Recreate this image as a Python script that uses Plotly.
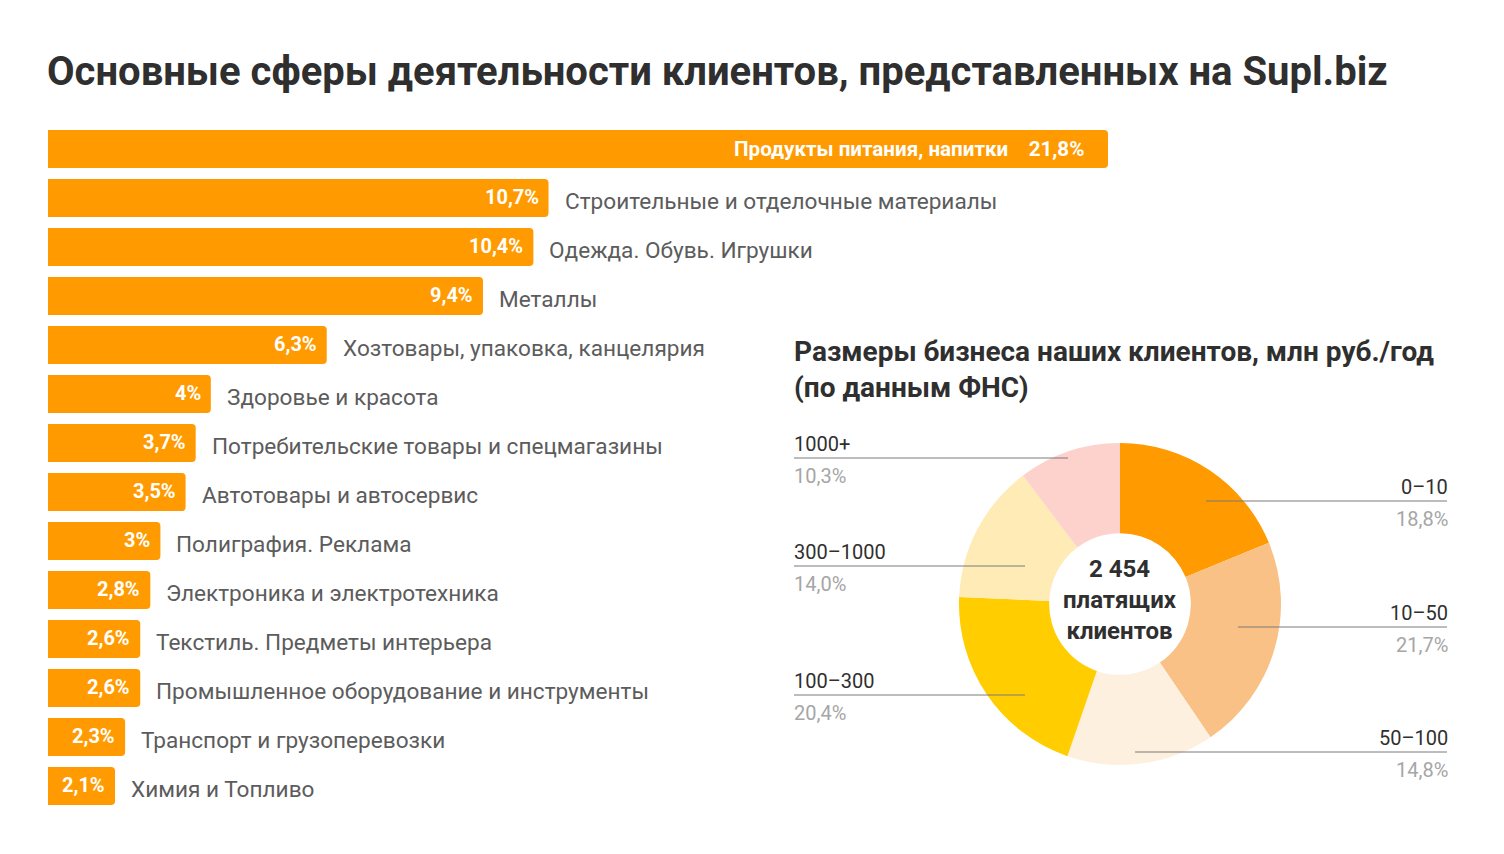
import plotly.graph_objects as go

W, H = 1504, 854
OFF = 8  # page body margin

# ---- data ----
categories = [
    "Продукты питания, напитки",
    "Строительные и отделочные материалы",
    "Одежда. Обувь. Игрушки",
    "Металлы",
    "Хозтовары, упаковка, канцелярия",
    "Здоровье и красота",
    "Потребительские товары и спецмагазины",
    "Автотовары и автосервис",
    "Полиграфия. Реклама",
    "Электроника и электротехника",
    "Текстиль. Предметы интерьера",
    "Промышленное оборудование и инструменты",
    "Транспорт и грузоперевозки",
    "Химия и Топливо",
]
shares = [21.8, 10.7, 10.4, 9.4, 6.3, 4.0, 3.7, 3.5, 3.0, 2.8, 2.6, 2.6, 2.3, 2.1]
share_labels = ["21,8%", "10,7%", "10,4%", "9,4%", "6,3%", "4%", "3,7%", "3,5%",
                "3%", "2,8%", "2,6%", "2,6%", "2,3%", "2,1%"]

size_groups = ["0–10", "10–50", "50–100", "100–300", "300–1000", "1000+"]
size_shares = [18.8, 21.7, 14.8, 20.4, 14.0, 10.3]
size_labels = ["18,8%", "21,7%", "14,8%", "20,4%", "14,0%", "10,3%"]
size_colors = ["#FF9A00", "#F9C185", "#FDF0DF", "#FFCD00", "#FEEBB6", "#FDD1CC"]
total_clients = "2 454"

ORANGE = "#FF9A00"
DARK = "#2f2f2f"
GRAY = "#5c5c5c"
LIGHT = "#a6a6a6"
FONT = "Roboto"


def px(x):
    return (x - OFF) / W


def py(y):
    return 1 - (y - OFF) / H


fig = go.Figure()

# bar chart
fig.add_trace(go.Bar(
    x=shares, y=categories, orientation="h",
    marker=dict(color=ORANGE, cornerradius=4, line=dict(width=0)),
    hoverinfo="skip", showlegend=False,
    xaxis="x", yaxis="y",
))

annotations = []
for i, (c, v, t) in enumerate(zip(categories, shares, share_labels)):
    if i == 0:
        annotations.append(dict(
            x=v, y=c, xref="x", yref="y", xanchor="right", yanchor="middle",
            xshift=-22, yshift=0, showarrow=False,
            text=c + "\u00a0\u00a0\u00a0\u00a0" + t,
            font=dict(family=FONT, size=20.6, color="white", weight="bold"),
        ))
    else:
        annotations.append(dict(
            x=v, y=c, xref="x", yref="y", xanchor="right", yanchor="middle",
            xshift=-8, yshift=1, showarrow=False, text=t,
            font=dict(family=FONT, size=20, color="white", weight="bold"),
        ))
        annotations.append(dict(
            x=v, y=c, xref="x", yref="y", xanchor="left", yanchor="middle",
            xshift=14, yshift=-3, showarrow=False, text=c,
            font=dict(family=FONT, size=22.6, color=GRAY),
        ))

# donut
cx, cy, r = 1120, 604, 161
fig.add_trace(go.Pie(
    labels=size_groups, values=size_shares, sort=False, direction="clockwise",
    rotation=0, hole=0.44, marker=dict(colors=size_colors, line=dict(width=0)),
    textinfo="none", hoverinfo="label+percent", showlegend=False,
    domain=dict(x=[px(cx - r), px(cx + r)], y=[py(cy + r), py(cy - r)]),
))

annotations.append(dict(
    x=px(cx), y=py(cy - 4), xref="paper", yref="paper", xanchor="center", yanchor="middle",
    showarrow=False, text=total_clients + "<br>платящих<br>клиентов",
    font=dict(family=FONT, size=24, color=DARK, weight="bold"),
))

# leader labels: (group index, label y, line x0, line x1, side)
leaders = [
    (0, 501, 1206, 1447, "right"),
    (1, 627, 1238, 1447, "right"),
    (2, 752, 1135, 1447, "right"),
    (3, 695, 794, 1025, "left"),
    (4, 566, 794, 1025, "left"),
    (5, 458, 794, 1068, "left"),
]
shapes = []
for idx, ly, x0, x1, side in leaders:
    shapes.append(dict(type="line", xref="paper", yref="paper",
                       x0=px(x0), x1=px(x1), y0=py(ly), y1=py(ly),
                       line=dict(color="#7a7a7a", width=1)))
    ax = px(x1) if side == "right" else px(x0)
    anc = "right" if side == "right" else "left"
    sh = 3 if side == "right" else -2
    annotations.append(dict(
        x=ax, y=py(ly), xref="paper", yref="paper", xanchor=anc, yanchor="bottom",
        showarrow=False, text=size_groups[idx], xshift=sh,
        font=dict(family=FONT, size=20, color=DARK),
    ))
    annotations.append(dict(
        x=ax, y=py(ly + 4), xref="paper", yref="paper", xanchor=anc, yanchor="top",
        showarrow=False, text=size_labels[idx], xshift=sh,
        font=dict(family=FONT, size=20, color=LIGHT),
    ))

# titles
annotations.append(dict(
    x=px(48), y=py(72), xref="paper", yref="paper", xanchor="left", yanchor="middle",
    showarrow=False, text="Основные сферы деятельности клиентов, представленных на Supl.biz",
    xshift=-3,
    font=dict(family=FONT, size=40, color=DARK, weight="bold"),
))
annotations.append(dict(
    x=px(794), y=py(369), xref="paper", yref="paper", xanchor="left", yanchor="middle",
    showarrow=False, align="left", xshift=-2,
    text="Размеры бизнеса наших клиентов, млн руб./год<br>(по данным ФНС)",
    font=dict(family=FONT, size=28, color=DARK, weight="bold"),
))

x0v = 0.77
scale = 1060 / (21.8 - x0v)
xmax = 22.0
fig.update_layout(
    width=W, height=H,
    margin=dict(l=0, r=0, t=0, b=0),
    paper_bgcolor="white", plot_bgcolor="rgba(0,0,0,0)",
    bargap=0.22,
    xaxis=dict(domain=[px(48), px(48 + (xmax - x0v) * scale)], range=[x0v, xmax],
               showgrid=False, zeroline=False, showticklabels=False, fixedrange=True),
    yaxis=dict(domain=[py(810.5), py(124.5)], autorange="reversed",
               showgrid=False, zeroline=False, showticklabels=False, fixedrange=True),
    annotations=annotations,
    shapes=shapes,
    font=dict(family=FONT),
)

fig.write_html("out.html")
